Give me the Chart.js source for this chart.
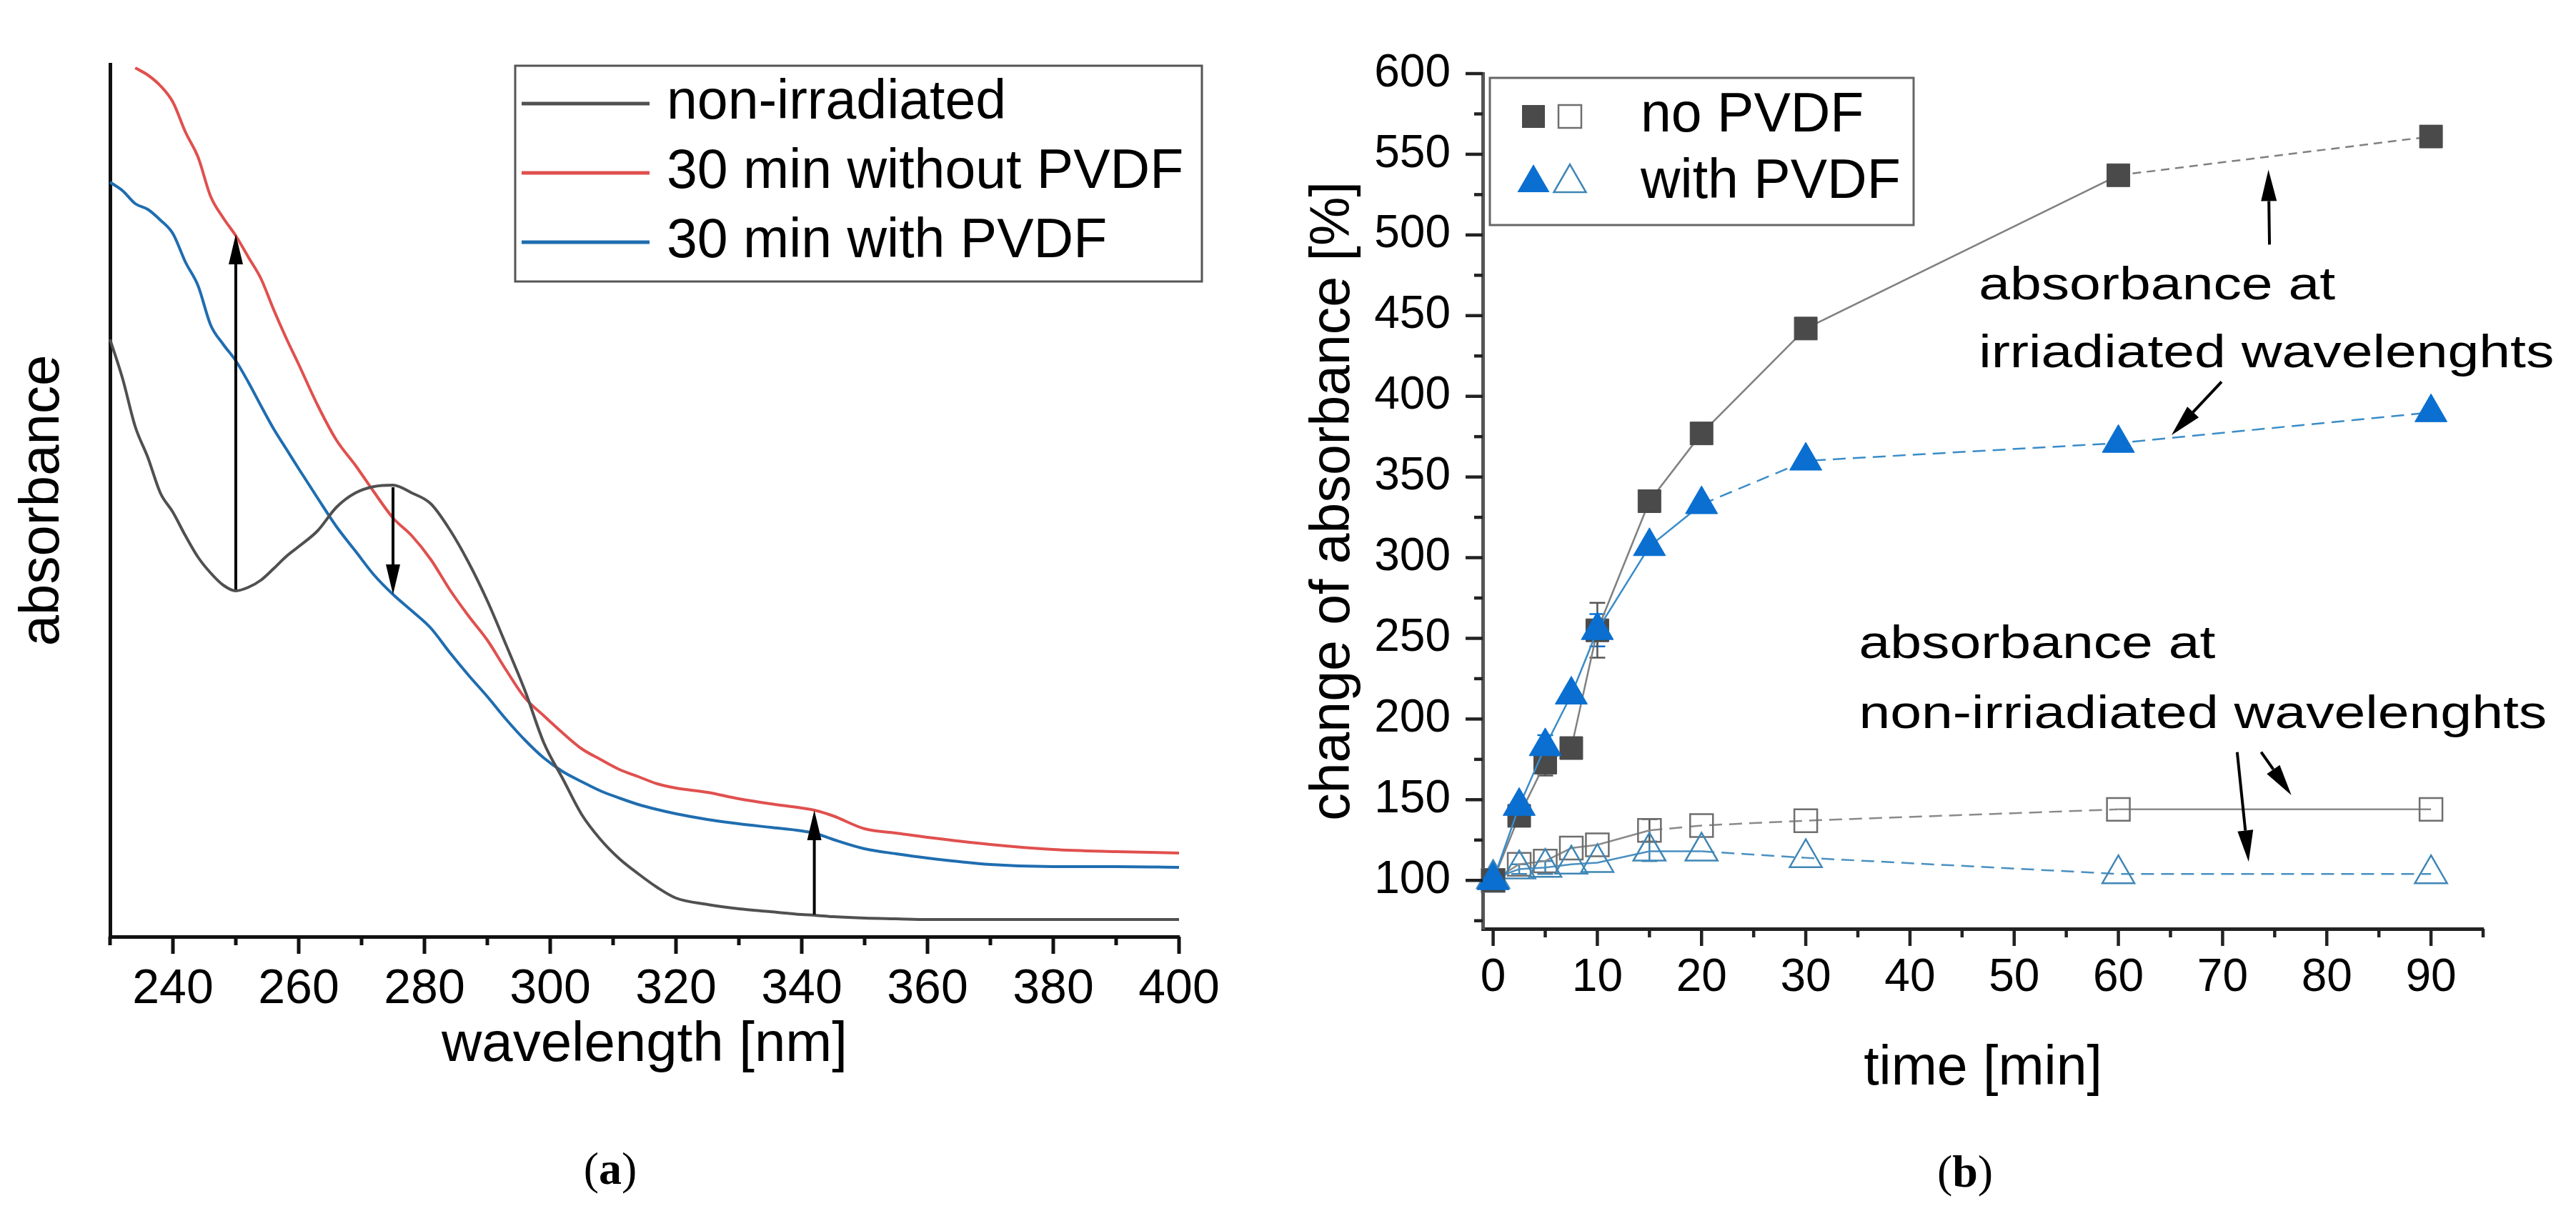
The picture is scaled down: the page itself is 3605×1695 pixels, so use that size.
<!DOCTYPE html>
<html>
<head>
<meta charset="utf-8">
<script src="https://cdn.jsdelivr.net/npm/chart.js@4/dist/chart.umd.min.js"></script>
<style>
  body { margin: 0; background: #fff; }
  #wrap { position: relative; width: 3605px; height: 1695px; background: #fff; }
  canvas { position: absolute; top: 0; }
  .cap { position: absolute; transform: translate(-50%, -50%); font: 64px 'Liberation Serif', 'Times New Roman', serif; color: #000; }
</style>
</head>
<body>
<div id="wrap">
  <canvas id="chartA" width="1760" height="1560" style="left:0"></canvas>
  <canvas id="chartB" width="1805" height="1560" style="left:1800px"></canvas>
  <div class="cap" style="left:854px;top:1636px">(<b>a</b>)</div>
  <div class="cap" style="left:2750px;top:1640px">(<b>b</b>)</div>
</div>
<script>
// ---- panel (a): absorbance spectra ----
const wavelengths = [230,232,234,236,238,240,242,244,246,248,250,252,254,256,258,260,
  263,266,269,272,275,278,281,284,287,290,293,296,299,302,305,308,311,314,317,320,
  325,330,335,340,342,345,350,355,360,370,380,390,400];
const nonIrradiated = [0.836,0.781,0.714,0.671,0.621,0.594,0.561,0.531,0.509,0.492,0.484,0.489,0.499,0.515,0.532,0.546,
  0.568,0.601,0.621,0.630,0.632,0.621,0.606,0.570,0.524,0.470,0.408,0.344,0.271,0.221,0.171,0.136,0.109,0.088,0.069,0.054,
  0.045,0.039,0.035,0.031,0.030,0.028,0.026,0.025,0.024,0.024,0.024,0.024,0.024];
const withoutPvdf30 = [null,null,1.216,1.206,1.191,1.168,1.126,1.091,1.036,1.006,0.981,0.951,0.921,0.878,0.838,0.801,
  0.744,0.695,0.660,0.622,0.586,0.561,0.528,0.486,0.449,0.415,0.373,0.334,0.309,0.285,0.263,0.248,0.234,0.224,0.214,0.208,
  0.202,0.193,0.186,0.180,0.177,0.169,0.151,0.145,0.139,0.129,0.122,0.119,0.117];
const withPvdf30 = [1.056,1.044,1.026,1.018,1.003,0.984,0.944,0.911,0.856,0.829,0.806,0.776,0.743,0.711,0.683,0.655,
  0.614,0.574,0.540,0.506,0.479,0.456,0.432,0.398,0.366,0.336,0.304,0.275,0.250,0.231,0.217,0.204,0.194,0.185,0.178,0.172,
  0.164,0.158,0.153,0.148,0.145,0.136,0.123,0.116,0.110,0.101,0.098,0.098,0.097];
const spectraNames = ['non-irradiated', '30 min without PVDF', '30 min with PVDF'];
const spectraColors = ['#505050', '#e0504e', '#1f6db0'];

// ---- panel (b): change of absorbance vs time ----
const times = [0, 2.5, 5, 7.5, 10, 15, 20, 30, 60, 90];
const noPvdfIrr   = [100, 140, 173, 182, 255, 335, 377, 442, 537, 561];
const withPvdfIrr = [100, 146, 183, 215, 255, 307, 333, 360, 371, 390];
const noPvdfNon   = [100, 110, 112, 120, 122, 131, 134, 137, 144, 144];
const withPvdfNon = [101, 107, 108, 110, 111, 118, 118, 114, 104, 104];
const noPvdfIrrErr   = [0, 0, 8, 0, 17, 0, 0, 0, 0, 0];
const withPvdfIrrErr = [0, 0, 7, 0, 10, 0, 0, 0, 0, 0];
const noPvdfNonErr   = [0, 0, 0, 0, 0, 7, 0, 0, 0, 0];
const withPvdfNonErr = [0, 3, 4, 0, 0, 6, 0, 0, 0, 0];
const legendNamesB = ['no PVDF', 'with PVDF'];

const FONT = "'Liberation Sans', Arial, sans-serif";
Chart.defaults.font.family = FONT;
Chart.defaults.color = '#000';

function arrow(ctx, x1, y1, x2, y2, head, half) {
  const a = Math.atan2(y2 - y1, x2 - x1);
  const bx = x2 - head * Math.cos(a), by = y2 - head * Math.sin(a);
  ctx.beginPath(); ctx.moveTo(x1, y1); ctx.lineTo(bx, by); ctx.stroke();
  ctx.beginPath(); ctx.moveTo(x2, y2);
  ctx.lineTo(bx + half * Math.sin(a), by - half * Math.cos(a));
  ctx.lineTo(bx - half * Math.sin(a), by + half * Math.cos(a));
  ctx.closePath(); ctx.fill();
}

// outward major/minor tick marks, taken from the scale's own ticks
const tickMarks = {
  id: 'tickMarks',
  afterDraw(chart, args, o) {
    const ctx = chart.ctx;
    ctx.save();
    ctx.lineWidth = o.width; ctx.strokeStyle = o.color;
    ['x', 'y'].forEach(id => {
      const s = chart.scales[id];
      if (!s.options.ticks.display) return;
      s.ticks.forEach(t => {
        const len = o.every[id](t.value) ? o.major : o.minor;
        const p = s.getPixelForValue(t.value);
        ctx.beginPath();
        if (id === 'x') { ctx.moveTo(p, s.top); ctx.lineTo(p, s.top + len); }
        else { ctx.moveTo(s.right, p); ctx.lineTo(s.right - len, p); }
        ctx.stroke();
      });
    });
    ctx.restore();
  }
};

const legendA = {
  id: 'legendA',
  afterDraw(chart, args, o) {
    const ctx = chart.ctx;
    ctx.save();
    ctx.fillStyle = '#fff'; ctx.fillRect(o.x, o.y, o.w, o.h);
    ctx.strokeStyle = '#555'; ctx.lineWidth = 3; ctx.strokeRect(o.x, o.y, o.w, o.h);
    ctx.font = o.font + 'px ' + FONT; ctx.textBaseline = 'middle';
    chart.data.datasets.forEach((ds, i) => {
      const y = o.y + o.first + i * o.row;
      ctx.strokeStyle = ds.borderColor; ctx.lineWidth = 5;
      ctx.beginPath(); ctx.moveTo(o.x + 9, y); ctx.lineTo(o.x + 188, y); ctx.stroke();
      ctx.fillStyle = '#000'; ctx.fillText(ds.label, o.x + 212, y);
    });
    ctx.restore();
  }
};

const arrowsA = {
  id: 'arrowsA',
  afterDatasetsDraw(chart, args, o) {
    const {ctx, scales: {x, y}} = chart;
    ctx.save();
    ctx.strokeStyle = '#000'; ctx.fillStyle = '#000'; ctx.lineWidth = 4;
    o.list.forEach(a => arrow(ctx, x.getPixelForValue(a[0]), y.getPixelForValue(a[1]),
      x.getPixelForValue(a[2]), y.getPixelForValue(a[3]), 42, 10));
    ctx.restore();
  }
};

new Chart(document.getElementById('chartA'), {
  type: 'line',
  data: {
    datasets: [nonIrradiated, withoutPvdf30, withPvdf30].map((arr, k) => ({
      label: spectraNames[k],
      data: wavelengths.map((w, i) => ({x: w, y: arr[i]})).filter(p => p.y !== null),
      borderColor: spectraColors[k],
      borderWidth: 4,
      pointRadius: 0,
      cubicInterpolationMode: 'monotone',
      clip: false
    }))
  },
  options: {
    responsive: false, animation: false,
    layout: {padding: {top: 90, right: 110, left: 0, bottom: 0}},
    plugins: {
      legend: {display: false}, tooltip: {enabled: false},
      tickMarks: {width: 5, color: '#111', major: 24, minor: 12, every: {x: v => v % 20 === 0, y: () => true}},
      legendA: {x: 721, y: 92, w: 961, h: 302, first: 53, row: 97, font: 77},
      arrowsA: {list: [[250, 0.486, 250, 0.983], [275, 0.629, 275, 0.479], [342, 0.031, 342, 0.177]]}
    },
    scales: {
      x: {
        type: 'linear', min: 230, max: 400,
        afterFit: s => { s.height = 249; },
        grid: {display: false, drawTicks: false},
        border: {display: true, color: '#111', width: 5},
        ticks: {stepSize: 10, autoSkip: false, includeBounds: false, maxRotation: 0, padding: 33,
          color: '#000', font: {size: 68}, callback: v => v % 20 === 0 ? v : ''},
        title: {display: true, text: 'wavelength [nm]', color: '#000', font: {size: 78}, padding: {top: 0, bottom: 50}}
      },
      y: {
        type: 'linear', min: 0, max: 1.221,
        afterFit: s => { s.width = 154; },
        grid: {display: false, drawTicks: false},
        border: {display: true, color: '#111', width: 5},
        ticks: {display: false},
        title: {display: true, text: 'absorbance', color: '#000', font: {size: 78}, padding: {top: 14, bottom: 0}}
      }
    }
  },
  plugins: [tickMarks, legendA, arrowsA]
});

// ---- panel (b) ----
function drawMarker(ctx, style, cx, cy, r, filled, color, lw) {
  ctx.beginPath();
  if (style === 'rect') {
    const h = r * Math.SQRT1_2;
    ctx.rect(cx - h, cy - h, 2 * h, 2 * h);
  } else {
    ctx.moveTo(cx, cy - r);
    ctx.lineTo(cx + r * Math.sin(2 * Math.PI / 3), cy + r / 2);
    ctx.lineTo(cx - r * Math.sin(2 * Math.PI / 3), cy + r / 2);
    ctx.closePath();
  }
  if (filled) { ctx.fillStyle = color; ctx.fill(); }
  else { ctx.strokeStyle = color; ctx.lineWidth = lw; ctx.stroke(); }
}

const legendB = {
  id: 'legendB',
  afterDraw(chart, args, o) {
    const ctx = chart.ctx;
    const ds = chart.data.datasets;
    ctx.save();
    ctx.fillStyle = '#fff'; ctx.fillRect(o.x, o.y, o.w, o.h);
    ctx.strokeStyle = '#666'; ctx.lineWidth = 3; ctx.strokeRect(o.x, o.y, o.w, o.h);
    // row 1: squares (datasets 1 and 3), row 2: triangles (datasets 0 and 2)
    [[1, 3], [0, 2]].forEach((pair, row) => {
      const cy = o.y + o.first + row * o.row;
      const a = ds[pair[0]], b = ds[pair[1]];
      drawMarker(ctx, a.pointStyle, o.x + 61, cy, a.pointRadius, true, a.pointBackgroundColor, 1);
      drawMarker(ctx, b.pointStyle, o.x + 112, cy, b.pointRadius, false, b.pointBorderColor, 2.5);
      ctx.fillStyle = '#000'; ctx.font = o.font + 'px ' + FONT; ctx.textBaseline = 'middle';
      ctx.fillText(legendNamesB[row], o.x + 211, cy);
    });
    ctx.restore();
  }
};

const errorBars = {
  id: 'errorBars',
  beforeDatasetsDraw(chart) {
    const {ctx, scales: {x, y}} = chart;
    ctx.save();
    chart.data.datasets.forEach(ds => {
      ctx.strokeStyle = ds.errColor; ctx.lineWidth = 2.5;
      ds.err.forEach((e, i) => {
        if (!e) return;
        const px = x.getPixelForValue(ds.data[i].x);
        const y1 = y.getPixelForValue(ds.data[i].y - e), y2 = y.getPixelForValue(ds.data[i].y + e);
        ctx.beginPath();
        ctx.moveTo(px, y1); ctx.lineTo(px, y2);
        ctx.moveTo(px - 11, y1); ctx.lineTo(px + 11, y1);
        ctx.moveTo(px - 11, y2); ctx.lineTo(px + 11, y2);
        ctx.stroke();
      });
    });
    ctx.restore();
  }
};

const notesB = {
  id: 'notesB',
  afterDatasetsDraw(chart, args, o) {
    const {ctx, scales: {x, y}} = chart;
    ctx.save();
    ctx.fillStyle = '#000'; ctx.strokeStyle = '#000'; ctx.lineWidth = 4;
    ctx.font = o.font + 'px ' + FONT; ctx.textBaseline = 'alphabetic';
    o.texts.forEach(t => {
      ctx.save();
      ctx.translate(x.getPixelForValue(t[0]), y.getPixelForValue(t[1]));
      ctx.scale(o.stretch, 1);
      ctx.fillText(t[2], 0, 0);
      ctx.restore();
    });
    o.arrows.forEach(a => arrow(ctx, x.getPixelForValue(a[0]), y.getPixelForValue(a[1]),
      x.getPixelForValue(a[2]), y.getPixelForValue(a[3]), 44, 11));
    ctx.restore();
  }
};

const pts = arr => times.map((t, i) => ({x: t, y: arr[i]}));
const dashFrom = (k, dash) => ({borderDash: c => c.p0DataIndex >= k ? dash : undefined});

new Chart(document.getElementById('chartB'), {
  type: 'line',
  data: {
    datasets: [
      {label: 'with PVDF, irradiated', data: pts(withPvdfIrr), err: withPvdfIrrErr, errColor: '#0a6fd0',
        borderColor: '#3a8cc8', borderWidth: 2.5, segment: dashFrom(6, [18, 10]),
        pointStyle: 'triangle', pointRadius: 26, pointBackgroundColor: '#0a6fd0', pointBorderColor: '#0a6fd0', pointBorderWidth: 1},
      {label: 'no PVDF, irradiated', data: pts(noPvdfIrr), err: noPvdfIrrErr, errColor: '#555',
        borderColor: '#808080', borderWidth: 2.5, segment: dashFrom(8, [12, 8]),
        pointStyle: 'rect', pointRadius: 22.6, pointBackgroundColor: '#4a4a4a', pointBorderColor: '#4a4a4a', pointBorderWidth: 1},
      {label: 'with PVDF, non-irradiated', data: pts(withPvdfNon), err: withPvdfNonErr, errColor: '#3f86b5',
        borderColor: '#4a90c0', borderWidth: 2.5, segment: dashFrom(6, [18, 10]),
        pointStyle: 'triangle', pointRadius: 26, pointBackgroundColor: 'rgba(255,255,255,0)', pointBorderColor: '#3f86b5', pointBorderWidth: 2.5},
      {label: 'no PVDF, non-irradiated', data: pts(noPvdfNon), err: noPvdfNonErr, errColor: '#555',
        borderColor: '#8a8a8a', borderWidth: 2.5, segment: {borderDash: c => (c.p0DataIndex >= 5 && c.p0DataIndex < 8) ? [18, 10] : undefined},
        pointStyle: 'rect', pointRadius: 22.6, pointBackgroundColor: 'rgba(255,255,255,0)', pointBorderColor: '#6e6e6e', pointBorderWidth: 2.5}
    ].map(d => Object.assign(d, {clip: false, tension: 0}))
  },
  options: {
    responsive: false, animation: false,
    layout: {padding: {top: 103, right: 130, left: 0, bottom: 0}},
    plugins: {
      legend: {display: false}, tooltip: {enabled: false},
      tickMarks: {width: 4.5, color: '#222', major: 24, minor: 12,
        every: {x: v => v % 10 === 0, y: v => v % 50 === 0}},
      legendB: {x: 285, y: 109, w: 593, h: 206, first: 54, row: 93, font: 77},
      notesB: {
        font: 64, stretch: 1.23,
        texts: [[46.6, 460, 'absorbance at'], [46.6, 418, 'irriadiated wavelenghts'],
                [35.1, 238, 'absorbance at'], [35.1, 194.6, 'non-irriadiated wavelenghts']],
        arrows: [[74.5, 494, 74.4, 540.5], [69.9, 409, 65.1, 376],
                 [71.4, 179.5, 72.5, 111.5], [73.7, 179.5, 76.6, 152.8]]
      }
    },
    scales: {
      x: {
        type: 'linear', min: -1, max: 95,
        afterFit: s => { s.height = 260; },
        grid: {display: false, drawTicks: false},
        border: {display: true, color: '#222', width: 5},
        ticks: {stepSize: 5, autoSkip: false, includeBounds: false, maxRotation: 0, padding: 31,
          color: '#000', font: {size: 64}, callback: v => v % 10 === 0 ? v : ''},
        title: {display: true, text: 'time [min]', color: '#000', font: {size: 77}, padding: {top: 0, bottom: 17}}
      },
      y: {
        type: 'linear', min: 70, max: 600,
        afterFit: s => { s.width = 275; },
        grid: {display: false, drawTicks: false},
        border: {display: true, color: '#555', width: 5},
        ticks: {stepSize: 25, autoSkip: false, includeBounds: false, padding: 45,
          color: '#000', font: {size: 64}, callback: v => v % 50 === 0 ? v : ''},
        title: {display: true, text: 'change of absorbance [%]', color: '#000', font: {size: 77}, padding: {top: 21, bottom: 0}}
      }
    }
  },
  plugins: [tickMarks, errorBars, notesB, legendB]
});
</script>
</body>
</html>
